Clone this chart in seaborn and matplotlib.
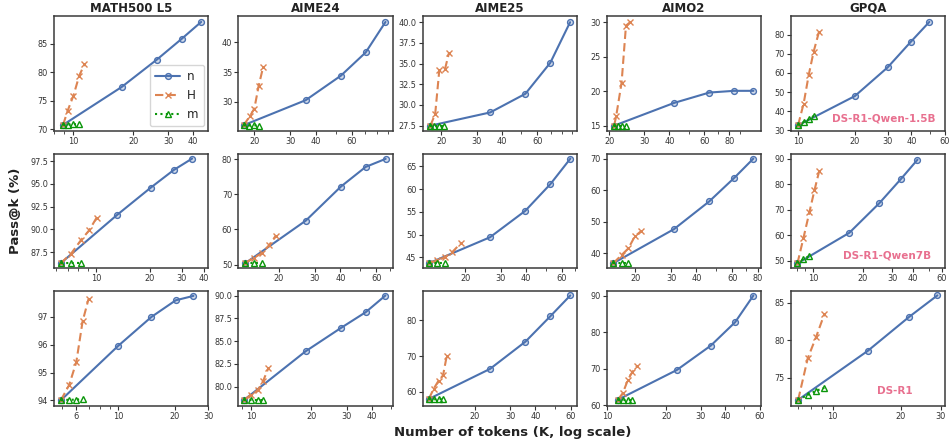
import matplotlib
matplotlib.use("Agg")
import matplotlib.pyplot as plt
import seaborn as sns
from matplotlib.ticker import FixedLocator, FixedFormatter, LogLocator, NullFormatter

benchmarks = ["MATH500 L5", "AIME24", "AIME25", "AIMO2", "GPQA"]
models = ["DS-R1-Qwen-1.5B", "DS-R1-Qwen7B", "DS-R1"]
methods = ["n", "H", "m"]

# ---------------- DS-R1-Qwen-1.5B (row 1) ----------------
q15_math_n_x = [8.87, 17.46, 26.3, 35.0, 43.9]
q15_math_n_y = [70.8, 77.4, 82.2, 85.8, 88.76]
q15_math_H_x = [8.87, 9.36, 10.0, 10.7, 11.36]
q15_math_H_y = [70.8, 73.3, 75.9, 79.4, 81.35]
q15_math_m_x = [8.87, 9.36, 10.0, 10.7]
q15_math_m_y = [70.8, 70.85, 70.9, 71.0]

q15_aime24_n_x = [17.7, 35.7, 53.1, 70.3, 87.9]
q15_aime24_n_y = [26.1, 30.3, 34.4, 38.3, 43.4]
q15_aime24_H_x = [17.7, 19.0, 20.0, 21.0, 22.1]
q15_aime24_H_y = [26.1, 27.6, 28.9, 32.7, 35.9]
q15_aime24_m_x = [17.7, 18.8, 19.9, 21.1]
q15_aime24_m_y = [26.1, 26.05, 26.1, 26.05]

q15_aime25_n_x = [17.6, 35.0, 52.4, 69.8, 87.6]
q15_aime25_n_y = [27.5, 29.1, 31.35, 35.1, 40.0]
q15_aime25_H_x = [17.6, 18.6, 19.5, 20.8, 21.8]
q15_aime25_H_y = [27.5, 28.9, 34.2, 34.3, 36.3]
q15_aime25_m_x = [17.6, 18.4, 19.4, 20.6]
q15_aime25_m_y = [27.5, 27.5, 27.5, 27.5]

q15_aimo2_n_x = [21.2, 42.3, 63.4, 84.3, 105.4]
q15_aimo2_n_y = [15.0, 18.3, 19.8, 20.05, 20.05]
q15_aimo2_H_x = [21.2, 21.7, 23.1, 24.3, 25.5]
q15_aimo2_H_y = [15.0, 16.35, 21.2, 29.5, 30.0]
q15_aimo2_m_x = [21.2, 22.2, 23.3, 24.3]
q15_aimo2_m_y = [15.0, 15.0, 15.0, 15.0]

q15_gpqa_n_x = [10.0, 20.0, 29.9, 39.8, 49.8]
q15_gpqa_n_y = [32.6, 47.85, 62.9, 76.4, 86.7]
q15_gpqa_H_x = [10.0, 10.7, 11.4, 12.1, 12.9]
q15_gpqa_H_y = [32.6, 43.9, 59.1, 71.2, 81.3]
q15_gpqa_m_x = [10.0, 10.7, 11.4, 12.1]
q15_gpqa_m_y = [32.6, 34.3, 35.7, 37.5]

# ---------------- DS-R1-Qwen7B (row 2) ----------------
q7_math_n_x = [6.38, 13.15, 20.2, 27.1, 34.3]
q7_math_n_y = [86.28, 91.61, 94.6, 96.54, 97.8]
q7_math_H_x = [6.38, 7.26, 8.25, 9.18, 10.1]
q7_math_H_y = [86.28, 87.3, 88.8, 89.9, 91.3]
q7_math_m_x = [6.38, 7.26, 8.25]
q7_math_m_y = [86.28, 86.3, 86.3]

q7_aime24_n_x = [13.7, 27.1, 40.3, 53.3, 66.8]
q7_aime24_n_y = [50.4, 62.5, 72.2, 77.8, 80.1]
q7_aime24_H_x = [13.7, 15.1, 16.5, 17.9, 19.3]
q7_aime24_H_y = [50.4, 52.0, 53.2, 55.5, 58.2]
q7_aime24_m_x = [13.7, 15.1, 16.5]
q7_aime24_m_y = [50.4, 50.4, 50.4]

q7_aime25_n_x = [13.2, 26.5, 39.6, 52.8, 66.3]
q7_aime25_n_y = [43.7, 49.4, 55.2, 61.1, 66.7]
q7_aime25_H_x = [13.2, 14.5, 15.8, 17.2, 19.1]
q7_aime25_H_y = [43.7, 44.3, 45.0, 46.1, 48.2]
q7_aime25_m_x = [13.2, 14.5, 15.8]
q7_aime25_m_y = [43.7, 43.7, 43.7]

q7_aimo2_n_x = [15.6, 31.0, 46.2, 61.4, 76.2]
q7_aimo2_n_y = [36.8, 47.6, 56.4, 63.9, 70.0]
q7_aimo2_H_x = [15.6, 17.2, 18.5, 19.9, 21.3]
q7_aimo2_H_y = [36.8, 39.5, 41.5, 45.3, 46.9]
q7_aimo2_m_x = [15.6, 17.2, 18.5]
q7_aimo2_m_y = [36.8, 36.8, 36.8]

q7_gpqa_n_x = [8.05, 16.55, 25.1, 33.9, 42.7]
q7_gpqa_n_y = [48.9, 60.9, 72.5, 82.0, 89.6]
q7_gpqa_H_x = [8.05, 8.74, 9.5, 10.2, 10.9]
q7_gpqa_H_y = [48.9, 58.7, 68.9, 77.6, 85.2]
q7_gpqa_m_x = [8.05, 8.74, 9.5]
q7_gpqa_m_y = [48.9, 50.6, 51.8]

# ---------------- DS-R1 (row 3) ----------------
r1_math_n_x = [4.96, 10.0, 15.0, 20.2, 25.1]
r1_math_n_y = [94.0, 95.96, 97.0, 97.6, 97.76]
r1_math_H_x = [4.96, 5.49, 5.99, 6.47, 6.96]
r1_math_H_y = [94.0, 94.55, 95.37, 96.84, 97.65]
r1_math_m_x = [4.96, 5.49, 5.99, 6.47]
r1_math_m_y = [94.0, 94.02, 94.02, 94.05]

r1_aime24_n_x = [9.26, 18.7, 28.1, 37.3, 46.8]
r1_aime24_n_y = [78.57, 83.88, 86.45, 88.17, 90.0]
r1_aime24_H_x = [9.26, 10.0, 10.8, 11.5, 12.2]
r1_aime24_H_y = [78.57, 79.12, 79.6, 80.66, 82.05]
r1_aime24_m_x = [9.26, 10.0, 10.8, 11.5]
r1_aime24_m_y = [78.57, 78.57, 78.57, 78.57]

r1_aime25_n_x = [11.8, 23.8, 35.7, 47.5, 59.7]
r1_aime25_n_y = [58.0, 66.4, 74.0, 81.1, 86.9]
r1_aime25_H_x = [11.8, 12.5, 13.2, 13.9, 14.5]
r1_aime25_H_y = [58.0, 60.9, 63.1, 64.6, 70.0]
r1_aime25_m_x = [11.8, 12.5, 13.2, 13.9]
r1_aime25_m_y = [58.0, 57.9, 58.0, 58.0]

r1_aimo2_n_x = [11.35, 22.6, 33.7, 44.8, 55.5]
r1_aimo2_n_y = [61.5, 69.6, 76.3, 82.7, 90.0]
r1_aimo2_H_x = [11.35, 12.0, 12.75, 13.4, 14.1]
r1_aimo2_H_y = [61.5, 63.3, 66.95, 69.0, 70.6]
r1_aimo2_m_x = [11.35, 12.0, 12.75, 13.4]
r1_aimo2_m_y = [61.3, 61.3, 61.3, 61.3]

r1_gpqa_n_x = [7.04, 14.3, 21.7, 29.0]
r1_gpqa_n_y = [72.05, 78.6, 83.1, 86.0]
r1_gpqa_H_x = [7.04, 7.76, 8.45, 9.19]
r1_gpqa_H_y = [72.05, 77.6, 80.45, 83.5]
r1_gpqa_m_x = [7.04, 7.76, 8.45, 9.19]
r1_gpqa_m_y = [72.05, 72.7, 73.26, 73.66]

# tick labels per panel
xticks_rows = [
    [[10, 20, 30, 40], [20, 30, 40, 60], [20, 30, 40, 60], [20, 30, 40, 60, 80], [10, 20, 30, 40, 60]],
    [[10, 20, 30, 40], [20, 30, 40, 60], [20, 30, 40, 60], [20, 30, 40, 60, 80], [10, 20, 30, 40, 60]],
    [[6, 10, 20, 30], [10, 20, 30, 40], [20, 30, 40, 60], [10, 20, 30, 40, 60], [10, 20, 30]],
]
yticks_rows = [
    [[70, 75, 80, 85], [30, 35, 40], [27.5, 30, 32.5, 35, 37.5, 40], [15, 20, 25, 30], [30, 40, 50, 60, 70, 80]],
    [[87.5, 90, 92.5, 95, 97.5], [50, 60, 70, 80], [45, 50, 55, 60, 65], [40, 50, 60, 70], [50, 60, 70, 80, 90]],
    [[94, 95, 96, 97], [80, 82.5, 85, 87.5, 90], [60, 70, 80], [60, 70, 80, 90], [75, 80, 85]],
]

# ---- layout (limits) ----
xlims = [
    [(8.0, 47.7), (16.7, 95.2), (16.1, 94.6), (19.5, 115), (9.18, 60.5)],
    [(5.86, 42.2), (12.66, 72.2), (12.3, 71.3), (14.5, 83.1), (7.37, 62.8)],
    [(4.57, 30.1), (8.64, 50.8), (11.0, 64.3), (9.95, 60.7), (6.55, 31.4)],
]
ylims = [
    [(69.8, 89.8), (25.2, 44.4), (26.9, 40.75), (14.28, 30.9), (29.8, 89.8)],
    [(85.72, 98.35), (48.95, 81.6), (42.6, 67.8), (35.2, 71.6), (47.0, 92.0)],
    [(93.8, 97.93), (77.9, 90.48), (56.1, 88.1), (59.8, 91.2), (71.25, 86.56)],
]

g = globals()
prefixes = ["q15", "q7", "r1"]
keys = ["math", "aime24", "aime25", "aimo2", "gpqa"]

sns.set_theme(style="ticks")
plt.rcParams.update({
    "axes.edgecolor": "#3a3a3a",
    "axes.linewidth": 1.1,
    "xtick.color": "#333333",
    "ytick.color": "#333333",
    "xtick.labelcolor": "#333333",
    "ytick.labelcolor": "#333333",
    "xtick.labelsize": 5.9,
    "ytick.labelsize": 5.9,
    "xtick.major.size": 3,
    "ytick.major.size": 3,
    "xtick.minor.size": 1.8,
    "xtick.major.width": 0.8,
    "ytick.major.width": 0.8,
    "xtick.minor.width": 0.6,
    "xtick.major.pad": 1.5,
    "ytick.major.pad": 1.5,
})
plt.rcParams["font.family"] = ["DejaVu Sans"]

colors = {"n": "#4c72b0", "H": "#dd8452", "m": "#0a960a"}
mstyle = {"n": "o", "H": "x", "m": "^"}
lstyle = {"n": "-", "H": (0, (4, 2)), "m": (0, (1, 1.6))}
face = {"n": (0.298, 0.447, 0.690, 0.25), "H": "none", "m": "none"}

fig, axes = plt.subplots(3, 5, figsize=(9.5, 4.44), dpi=100)
fig.subplots_adjust(left=0.057, right=0.995, top=0.964, bottom=0.086, wspace=0.195, hspace=0.2)

for r in range(3):
    for c in range(5):
        ax = axes[r, c]
        p = prefixes[r]
        k = keys[c]
        for meth in methods:
            xs = g[f"{p}_{k}_{meth}_x"]
            ys = g[f"{p}_{k}_{meth}_y"]
            kw = {}
            if r == 0 and c == 0:
                kw["label"] = meth
            sns.lineplot(x=xs, y=ys, ax=ax, sort=False, estimator=None,
                         color=colors[meth], marker=mstyle[meth], linestyle=lstyle[meth],
                         markersize=4.2 if meth != "H" else 4.5,
                         markerfacecolor=face[meth], markeredgecolor=colors[meth],
                         markeredgewidth=1.0, linewidth=1.5, zorder=3 if meth == "n" else 4,
                         **kw)
        ax.set_xscale("log")
        ax.set_xlim(*xlims[r][c])
        ax.set_ylim(*ylims[r][c])
        xt = xticks_rows[r][c]
        ax.xaxis.set_major_locator(FixedLocator(xt))
        ax.xaxis.set_major_formatter(FixedFormatter([str(v) for v in xt]))
        ax.xaxis.set_minor_locator(LogLocator(base=10, subs=(2, 3, 4, 5, 6, 7, 8, 9)))
        ax.xaxis.set_minor_formatter(NullFormatter())
        ax.set_yticks(yticks_rows[r][c])
        ax.set_xlabel("")
        ax.set_ylabel("")
        for s in ax.spines.values():
            s.set_visible(True)
        if r == 0:
            ax.set_title(benchmarks[c], fontsize=8.5, fontweight="bold", pad=3, color="#222222")
        if r == 0 and c == 0:
            ax.legend(loc="lower right", fontsize=8.6, handlelength=2.1, borderpad=0.45,
                      labelspacing=0.5, handletextpad=0.6, frameon=True, borderaxespad=0.35)
        else:
            leg = ax.get_legend()
            if leg is not None:
                leg.remove()

ann_pos = [(0.60, 0.104), (0.62, 0.108), (0.67, 0.125)]
for r in range(3):
    axes[r, 4].text(ann_pos[r][0], ann_pos[r][1], models[r], transform=axes[r, 4].transAxes,
                    ha="center", va="center", fontsize=7.5, fontweight="bold", color="#e8708f")

fig.text(0.016, 0.525, "Pass@k (%)", rotation=90, ha="center", va="center",
         fontsize=9.5, fontweight="bold", color="#222222")
fig.text(0.54, 0.026, "Number of tokens (K, log scale)", ha="center", va="center",
         fontsize=9.5, fontweight="bold", color="#222222")

fig.savefig("out.png", dpi=100)
